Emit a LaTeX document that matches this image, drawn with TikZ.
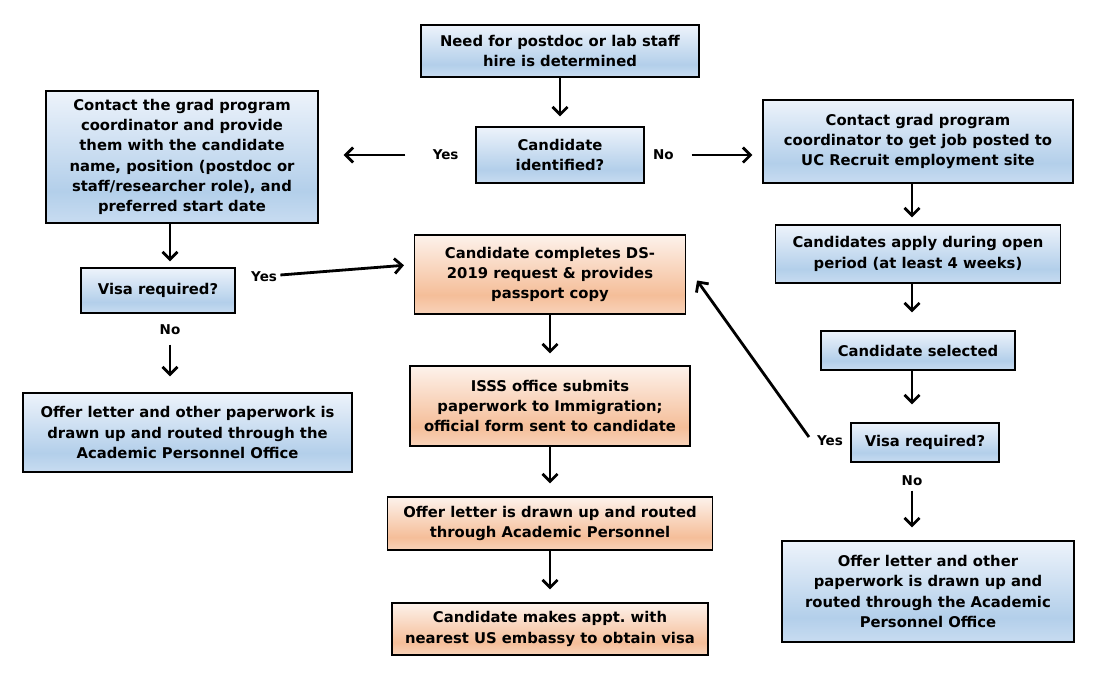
\documentclass[tikz,border=0pt]{standalone}
\usepackage{fontspec}
\setmainfont{DejaVu Sans}
\usepackage{tikz}
\usetikzlibrary{arrows.meta,calc,positioning,shapes}
\definecolor{blueT}{HTML}{EDF3FB}
\definecolor{blueM}{HTML}{B3CFEA}
\definecolor{blueB}{HTML}{C8DCF1}
\definecolor{orangeT}{HTML}{FDF2EB}
\definecolor{orangeM}{HTML}{F5BE99}
\definecolor{orangeB}{HTML}{F8D3BA}
\pgfdeclareverticalshading{blueshade}{100bp}{color(0bp)=(blueB); color(25bp)=(blueB); color(37bp)=(blueM); color(75bp)=(blueT); color(100bp)=(blueT)}
\pgfdeclareverticalshading{orangeshade}{100bp}{color(0bp)=(orangeB); color(25bp)=(orangeB); color(37bp)=(orangeM); color(75bp)=(orangeT); color(100bp)=(orangeT)}
\newcommand\flowfont{\fontsize{14.8}{20.3}\selectfont\bfseries}
\newcommand\ansfont{\fontsize{13.5}{15}\selectfont\bfseries}
\tikzset{%
	block/.style   = {draw, rectangle, line width=1.1pt, shade, shading=blueshade, align=center, inner sep=2pt, font=\flowfont}, % blue box
	visabox/.style = {block, shading=orangeshade}, % visa steps
	answer/.style  = {font=\ansfont, inner sep=0pt}, % Yes / No
	arrow/.style   = {line width=2.8pt, -{Straight Barb[length=7.5pt,width=15pt]}},
}

\begin{document}
\begin{tikzpicture}[x=1pt,y=-1pt,node distance=100pt]
	\useasboundingbox (0,0) rectangle (1101,673);
	\coordinate (lx) at (170,0);
	\coordinate (rx) at (912,0);

	\node [block, minimum width=278pt, minimum height=52pt] (need) at (560,51) {Need for postdoc or lab staff\\hire is determined};
	\node [block, minimum width=168pt, minimum height=56pt] (cand) [below of=need, node distance=104pt] {Candidate\\identified?};
	\node [block, minimum width=272pt, minimum height=132pt] (cont) at (182,157) {Contact the grad program\\coordinator and provide\\them with the candidate\\name, position (postdoc or\\staff/researcher role), and\\preferred start date};
	\node [block, minimum width=154pt, minimum height=45pt] (visal) at (158,290.5) {Visa required?};
	\node [block, minimum width=329pt, minimum height=79pt] (offl) at (187.5,432.5) {Offer letter and other paperwork is\\drawn up and routed through the\\Academic Personnel Office};
	\node [block, minimum width=310pt, minimum height=83pt] (post) at (918,141.5) {Contact grad program\\coordinator to get job posted to\\UC Recruit employment site};
	\node [block, minimum width=285pt, minimum height=58pt] (apply) [below of=post, node distance=112.5pt] {Candidates apply during open\\period (at least 4 weeks)};
	\node [block, minimum width=194pt, minimum height=39pt] (sel) [below of=apply, node distance=96.5pt] {Candidate selected};
	\node [block, minimum width=148pt, minimum height=39pt] (visar) at (925,442.5) {Visa required?};
	\node [block, minimum width=292pt, minimum height=101pt] (offr) at (928,591.5) {Offer letter and other\\paperwork is drawn up and\\routed through the Academic\\Personnel Office};
	\node [visabox, minimum width=271pt, minimum height=79pt] (ds) at (550,274.5) {Candidate completes DS-\\2019 request \& provides\\passport copy};
	\node [visabox, minimum width=280pt, minimum height=80pt] (isss) [below of=ds, node distance=131.5pt] {ISSS office submits\\paperwork to Immigration;\\official form sent to candidate};
	\node [visabox, minimum width=325pt, minimum height=53pt] (offm) [below of=isss, node distance=117.5pt] {Offer letter is drawn up and routed\\through Academic Personnel};
	\node [visabox, minimum width=316pt, minimum height=52pt] (appt) [below of=offm, node distance=105.5pt] {Candidate makes appt.\ with\\nearest US embassy to obtain visa};
	\node [answer] (yesr) at (830,441) {Yes};

	\draw[arrow, shorten >=10pt] (need) -- (cand);
	\draw[arrow, shorten <=70pt, shorten >=25pt] (cand.west) -- node[answer, pos=.19] {Yes} (cand.west -| cont.east);
	\draw[arrow, shorten <=47pt, shorten >=10pt] (cand.east) -- node[answer, pos=.16] {No} (cand.east -| post.west);
	\draw[arrow, shorten >=6pt] (lx |- cont.south) -- (lx |- visal.north);
	\draw[arrow, shorten <=31pt, shorten >=16pt] (lx |- visal.south) -- node[answer, pos=.21] {No} (lx |- offl.north);
	\draw[arrow, shorten <=45pt, shorten >=10pt] ([yshift=12pt]visal.east) -- node[answer, pos=.16] {Yes} ([yshift=10pt]ds.west);
	\draw[arrow, shorten >=12pt] (ds) -- (isss);
	\draw[arrow, shorten >=13pt] (isss) -- (offm);
	\draw[arrow, shorten >=13pt] (offm) -- (appt);
	\draw[arrow, shorten >=7pt] (rx |- post.south) -- (rx |- apply.north);
	\draw[arrow, shorten >=18pt] (rx |- apply.south) -- (rx |- sel.north);
	\draw[arrow, shorten >=18pt] (rx |- sel.south) -- (rx |- visar.north);
	\draw[arrow, shorten <=28pt, shorten >=13pt] (rx |- visar.south) -- node[answer, pos=.23] {No} (rx |- offr.north);
	\draw[arrow] ([xshift=-8pt,yshift=4pt]yesr.west) -- ([xshift=11pt,yshift=-6pt]ds.east);
\end{tikzpicture}
\end{document}
